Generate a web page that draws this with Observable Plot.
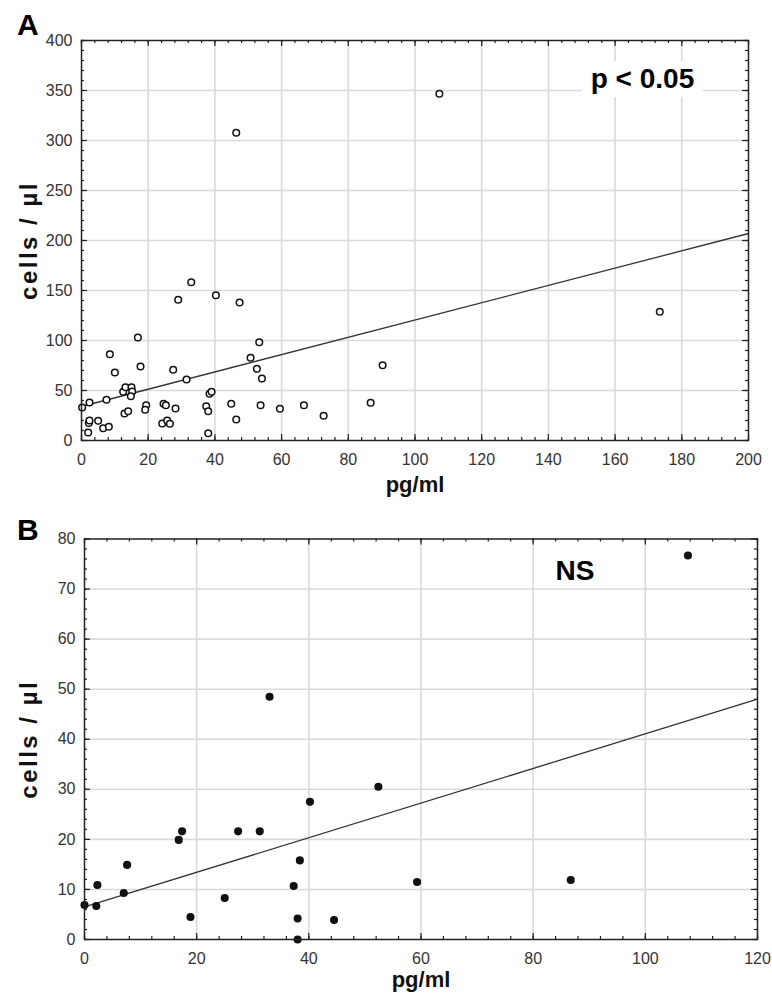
<!DOCTYPE html>
<html><head><meta charset="utf-8">
<script src="https://cdn.jsdelivr.net/npm/d3@7"></script>
<script src="https://cdn.jsdelivr.net/npm/@observablehq/plot@0.6"></script>
<style>
body{margin:0;background:#fff;font-family:"Liberation Sans",Arial,sans-serif;}
#wrap{position:relative;width:772px;height:994px;overflow:hidden;}
.panel{position:absolute;left:0;}
.lbl{position:absolute;font-weight:bold;color:#000;line-height:1;white-space:nowrap;}
</style></head><body>
<div id="wrap">
  <div id="pa" class="panel" style="top:0"></div>
  <div id="pb" class="panel" style="top:494px"></div>
  <div class="lbl" style="left:17px;top:10px;font-size:30px;">A</div>
  <div class="lbl" style="left:17px;top:515px;font-size:30px;">B</div>
  <div class="lbl" style="left:582px;top:61px;width:121px;height:36px;line-height:36px;text-align:center;background:#fff;font-size:28px;">p &lt; 0.05</div>
  <div class="lbl" style="left:535px;top:557px;width:80px;text-align:center;font-size:28px;">NS</div>
</div>
<script>
// ---- Panel A data ----
const aX = [0.2, 2.4, 2, 2.2, 2.4, 5, 6.5, 8.2, 7.5, 8.5, 10, 12.5, 13.2, 15, 15.2, 14.8, 12.9, 14,
  16.9, 17.7, 19.4, 19.1, 24.6, 25.3, 24.2, 25.7, 26.5, 28.2, 27.5, 29, 32.9, 40.3, 31.5, 37.4, 38, 38,
  38.4, 39, 44.9, 46.4, 47.4, 53.3, 50.7, 52.6, 54.1, 53.7, 59.5, 66.7, 72.6, 86.7, 90.3, 46.4, 107.3, 173.4];
const aY = [33, 38, 8, 17.5, 20, 19.7, 12.3, 13.7, 40.7, 86.3, 68, 48.7, 53.3, 53.3, 49, 44.3, 27, 29.3,
  103, 74, 35.3, 30.7, 36.7, 35.3, 17, 20, 16.7, 32, 70.7, 140.7, 158.3, 145.3, 61, 34.3, 29.3, 7.3,
  46.7, 48.7, 36.7, 21, 138, 98.3, 82.7, 71.7, 62, 35.3, 31.7, 35.3, 24.7, 37.7, 75.3, 307.7, 346.7, 128.7];
const aFitX = [0, 200];
const aFitY = [34, 207];
const aXTicks = [0, 20, 40, 60, 80, 100, 120, 140, 160, 180, 200];
const aYTicks = [0, 50, 100, 150, 200, 250, 300, 350, 400];

// ---- Panel B data ----
const bX = [0, 2.1, 2.3, 7, 7.6, 16.8, 17.4, 18.9, 25, 27.4, 31.25, 33, 37.3, 38.4, 38, 38, 40.2, 44.5,
  52.4, 59.3, 86.7, 107.6];
const bY = [6.9, 6.7, 10.9, 9.3, 14.9, 19.9, 21.6, 4.5, 8.3, 21.6, 21.6, 48.5, 10.7, 15.8, 4.2, 0, 27.5, 3.9,
  30.5, 11.5, 11.9, 76.7];
const bFitX = [0, 120];
const bFitY = [6.5, 48];
const bXTicks = [0, 20, 40, 60, 80, 100, 120];
const bYTicks = [0, 10, 20, 30, 40, 50, 60, 70, 80];

const xLabel = "pg/ml";
const yLabel = "cells / µl";

function panel(o) {
  const W = 772;
  const fw = W - o.ml - o.mr, fh = o.height - o.mt - o.mb;
  const pts = o.xs.map((x, i) => ({x, y: o.ys[i]}));
  const fit = o.fx.map((x, i) => ({x, y: o.fy[i]}));
  const xMinor = d3.range(o.xTicks[0], o.xTicks[o.xTicks.length - 1] + 1e-9, o.xMinorStep);
  const yMinor = d3.range(o.yTicks[0], o.yTicks[o.yTicks.length - 1] + 1e-9, o.yMinorStep);
  const tk = {stroke: "#222", strokeWidth: 1.2};
  const grid = {stroke: "#dadada", strokeOpacity: 1, strokeWidth: 1.6};
  const svg = Plot.plot({
    width: W, height: o.height,
    marginLeft: o.ml, marginRight: o.mr, marginTop: o.mt, marginBottom: o.mb,
    style: {fontFamily: "Liberation Sans, Arial, sans-serif", background: "transparent", overflow: "visible"},
    x: {domain: [o.xTicks[0], o.xTicks[o.xTicks.length - 1]]},
    y: {domain: [o.yTicks[0], o.yTicks[o.yTicks.length - 1]]},
    marks: [
      Plot.ruleX(o.xTicks.slice(1, -1), grid),
      Plot.ruleY(o.yTicks.slice(1, -1), grid),
      // minor ticks, inward on all sides
      Plot.ruleX(xMinor, {...tk, insetTop: fh - 3}),
      Plot.ruleX(xMinor, {...tk, insetBottom: fh - 3}),
      Plot.ruleY(yMinor, {...tk, insetRight: fw - 3}),
      Plot.ruleY(yMinor, {...tk, insetLeft: fw - 3}),
      // major ticks
      Plot.ruleX(o.xTicks, {...tk, insetTop: fh - 6}),
      Plot.ruleX(o.xTicks, {...tk, insetBottom: fh - 6}),
      Plot.ruleY(o.yTicks, {...tk, insetRight: fw - 6}),
      Plot.ruleY(o.yTicks, {...tk, insetLeft: fw - 6}),
      Plot.line(fit, {x: "x", y: "y", stroke: "#333", strokeWidth: 1.3}),
      Plot.dot(pts, {x: "x", y: "y", r: o.r, stroke: "#111", strokeWidth: 1.5, fill: o.filled ? "#111" : "#fff"}),
      Plot.frame({stroke: "#222", strokeWidth: 1.5}),
      Plot.axisX(o.xTicks, {tickSize: 0, tickPadding: 13, fontSize: 16, color: "#333", label: null}),
      Plot.axisY(o.yTicks, {tickSize: 0, tickPadding: 9, fontSize: 16, color: "#333", label: null}),
      Plot.text([xLabel], {frameAnchor: "bottom", dy: o.xLabDy, fontSize: 22, fontWeight: "bold", fill: "#111", lineAnchor: "middle"}),
      Plot.text([yLabel], {frameAnchor: "left", dx: o.yLabDx, rotate: -90, fontSize: 24, fontWeight: "bold", fill: "#111", lineAnchor: "middle", textAnchor: "middle"})
    ]
  });
  d3.select(svg).selectAll("text").filter(function() { return this.textContent === yLabel; })
    .attr("letter-spacing", "2.5px");
  return svg;
}

document.getElementById("pa").append(panel({
  xs: aX, ys: aY, fx: aFitX, fy: aFitY, xTicks: aXTicks, yTicks: aYTicks,
  xMinorStep: 4, yMinorStep: 10, filled: false, r: 3.3,
  height: 494, mt: 40, mb: 54, ml: 81, mr: 24, xLabDy: 44, yLabDx: -52
}));
document.getElementById("pb").append(panel({
  xs: bX, ys: bY, fx: bFitX, fy: bFitY, xTicks: bXTicks, yTicks: bYTicks,
  xMinorStep: 4, yMinorStep: 2, filled: true, r: 3.3,
  height: 500, mt: 44.5, mb: 55, ml: 84, mr: 15, xLabDy: 40, yLabDx: -55
}));
</script>
</body></html>
